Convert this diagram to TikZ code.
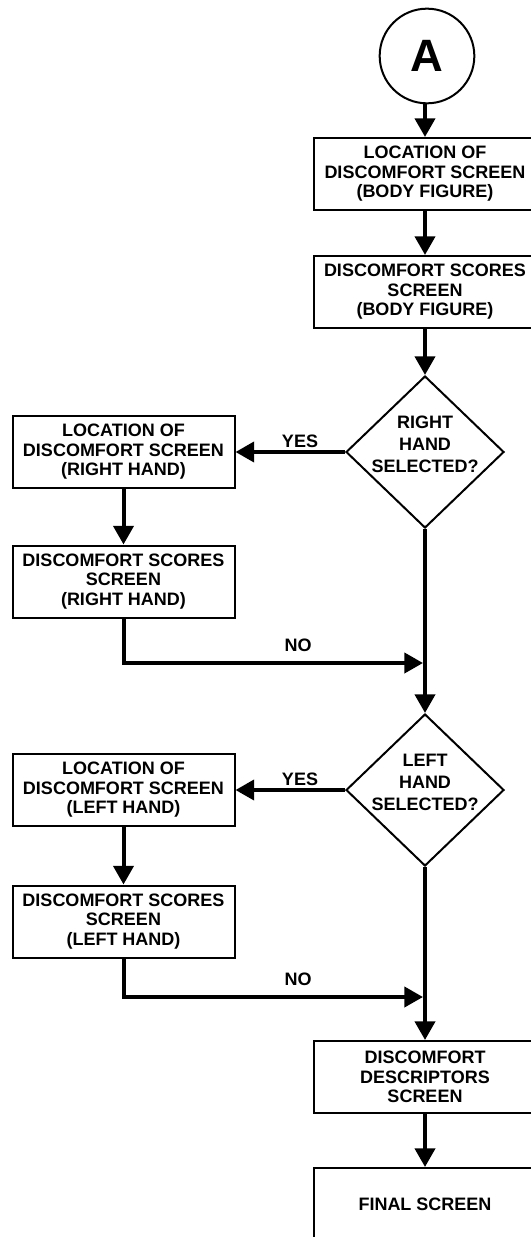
\documentclass[tikz,border=0pt]{standalone}
\usepackage{fontspec}
\setmainfont{Liberation Sans}
\usetikzlibrary{shapes.geometric,arrows.meta}
\tikzset{
  boxnode/.style={draw, line width=1.5pt, rectangle, minimum width=166.5pt, minimum height=54pt,
    inner sep=0pt, align=center, font=\fontsize{13.5}{14.6}\selectfont\bfseries},
  decision/.style={draw, line width=1.5pt, diamond, minimum width=118.5pt, minimum height=114pt, inner sep=0pt},
  dtext/.style={align=center, font=\fontsize{13.5}{16.5}\selectfont\bfseries},
  conn/.style={line width=3pt, -{Triangle[width=15pt,length=14pt]}},
  lbl/.style={font=\fontsize{13.5}{14}\selectfont\bfseries, inner sep=0pt}
}
\begin{document}
\begin{tikzpicture}[x=0.75pt,y=-0.75pt]
\useasboundingbox (0,0) rectangle (531,1237);
\clip (0,0) rectangle (531,1237);
% nodes
\node[draw, circle, line width=1.5pt, minimum size=71pt, inner sep=0pt,
      font=\fontsize{34}{34}\selectfont\bfseries] (A) at (427,56) {A};
\node[boxnode] (b1) at (425,174) {LOCATION OF\\DISCOMFORT SCREEN\\(BODY FIGURE)};
\node[boxnode] (b2) at (425,292) {DISCOMFORT SCORES\\SCREEN\\(BODY FIGURE)};
\node[decision] (d1) at (425,452) {};
\node[dtext] (d1t) at (425,444) {RIGHT\\HAND\\SELECTED?};
\node[boxnode] (l1) at (123.5,452) {LOCATION OF\\DISCOMFORT SCREEN\\(RIGHT HAND)};
\node[boxnode] (l2) at (123.5,581.5) {DISCOMFORT SCORES\\SCREEN\\(RIGHT HAND)};
\node[decision] (d2) at (425,790) {};
\node[dtext] (d2t) at (425,782) {LEFT\\HAND\\SELECTED?};
\node[boxnode] (l3) at (123.5,790) {LOCATION OF\\DISCOMFORT SCREEN\\(LEFT HAND)};
\node[boxnode] (l4) at (123.5,921.5) {DISCOMFORT SCORES\\SCREEN\\(LEFT HAND)};
\node[boxnode] (r3) at (425,1077) {DISCOMFORT\\DESCRIPTORS\\SCREEN};
\node[boxnode] (r4) at (425,1204) {FINAL SCREEN};
\coordinate (j1) at (425,663);
\coordinate (j2) at (425,997);
% connectors
\draw[conn] (A.south -| b1.north) -- (b1.north);
\draw[conn] (b1.south) -- (b2.north);
\draw[conn] (b2.south) -- (d1.north);
\draw[conn] (d1.west) -- (d1.west -| l1.east);
\node[lbl] (yes1) at (300,441) {YES};
\draw[conn] (l1.south) -- (l2.north);
\draw[conn, shorten >=1.5pt] (l2.south) |- (j1);
\node[lbl] (no1) at (298,645) {NO};
\draw[conn] (d1.south) -- (d2.north);
\draw[conn] (d2.west) -- (d2.west -| l3.east);
\node[lbl] (yes2) at (300,779) {YES};
\draw[conn] (l3.south) -- (l4.north);
\draw[conn, shorten >=1.5pt] (l4.south) |- (j2);
\node[lbl] (no2) at (298,979) {NO};
\draw[conn] (d2.south) -- (r3.north);
\draw[conn] (r3.south) -- (r4.north);
\end{tikzpicture}
\end{document}
